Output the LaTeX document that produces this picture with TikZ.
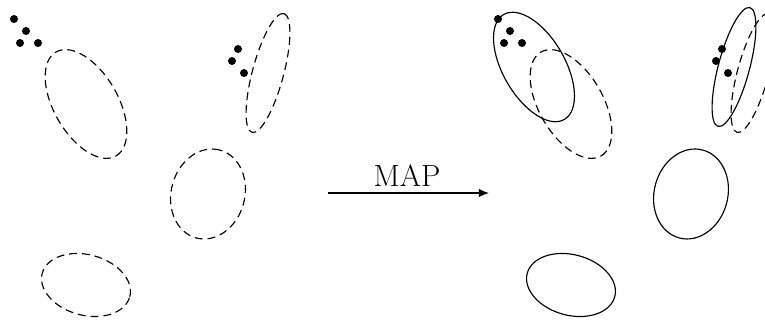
\documentclass[tikz,border=0pt]{standalone}
\usetikzlibrary{arrows.meta}
\begin{document}
\begin{tikzpicture}[x=0.02cm,y=0.02cm,
  region/.style={line width=0.65pt},
  oldregion/.style={region, dash pattern=on 4.5pt off 2.8pt},
  pt/.style={fill=black},
  maparrow/.style={line width=0.65pt, -{Latex[length=5.8pt,width=4.8pt]}}]
\useasboundingbox (0,0) rectangle (765,-320);
\clip (0,0) rectangle (765,-320);

% source configuration: points and dashed regions
\foreach \p in {(14,-19),(26,-31),(20,-43),(38,-43),
                (238,-49),(232,-61),(244,-73)}
  \fill[pt] \p circle (4);
\draw[oldregion, rotate around={-60:(86,-104)}] (86,-104) ellipse (60 and 32);
\draw[oldregion, rotate around={75:(268,-73)}] (268,-73) ellipse (61.5 and 15.6);
\draw[oldregion, rotate around={75:(208,-194)}] (208,-194) ellipse (45.5 and 36.8);
\draw[oldregion, rotate around={-15:(86,-285)}] (86,-285) ellipse (45.3 and 30.3);

% the mapping
\coordinate (mapfrom) at (328,-193);
\coordinate (mapto) at (489,-193);
\draw[maparrow] (mapfrom) -- (mapto);
\node[font=\fontsize{17.5}{20}\selectfont, inner sep=0pt] (maplabel) at (407,-176) {MAP};

% target configuration: points, previous regions (dashed) and new regions
\begin{scope}[xshift=484*0.02cm]
\foreach \p in {(14,-19),(26,-31),(20,-43),(38,-43),
                (238,-49),(232,-61),(244,-73)}
  \fill[pt] \p circle (4);
\end{scope}
\draw[oldregion, rotate around={-60:(571,-104)}] (571,-104) ellipse (60 and 32);
\draw[oldregion, rotate around={75:(753,-73)}] (753,-73) ellipse (61.5 and 15.6);
\draw[region, rotate around={-60:(534,-67)}] (534,-67) ellipse (60.6 and 31);
\draw[region, rotate around={75:(734,-67)}] (734,-67) ellipse (61.5 and 15.6);
\draw[region, rotate around={75:(691,-194)}] (691,-194) ellipse (45.5 and 36.8);
\draw[region, rotate around={-15:(571,-285)}] (571,-285) ellipse (45.3 and 30.3);
\end{tikzpicture}
\end{document}
